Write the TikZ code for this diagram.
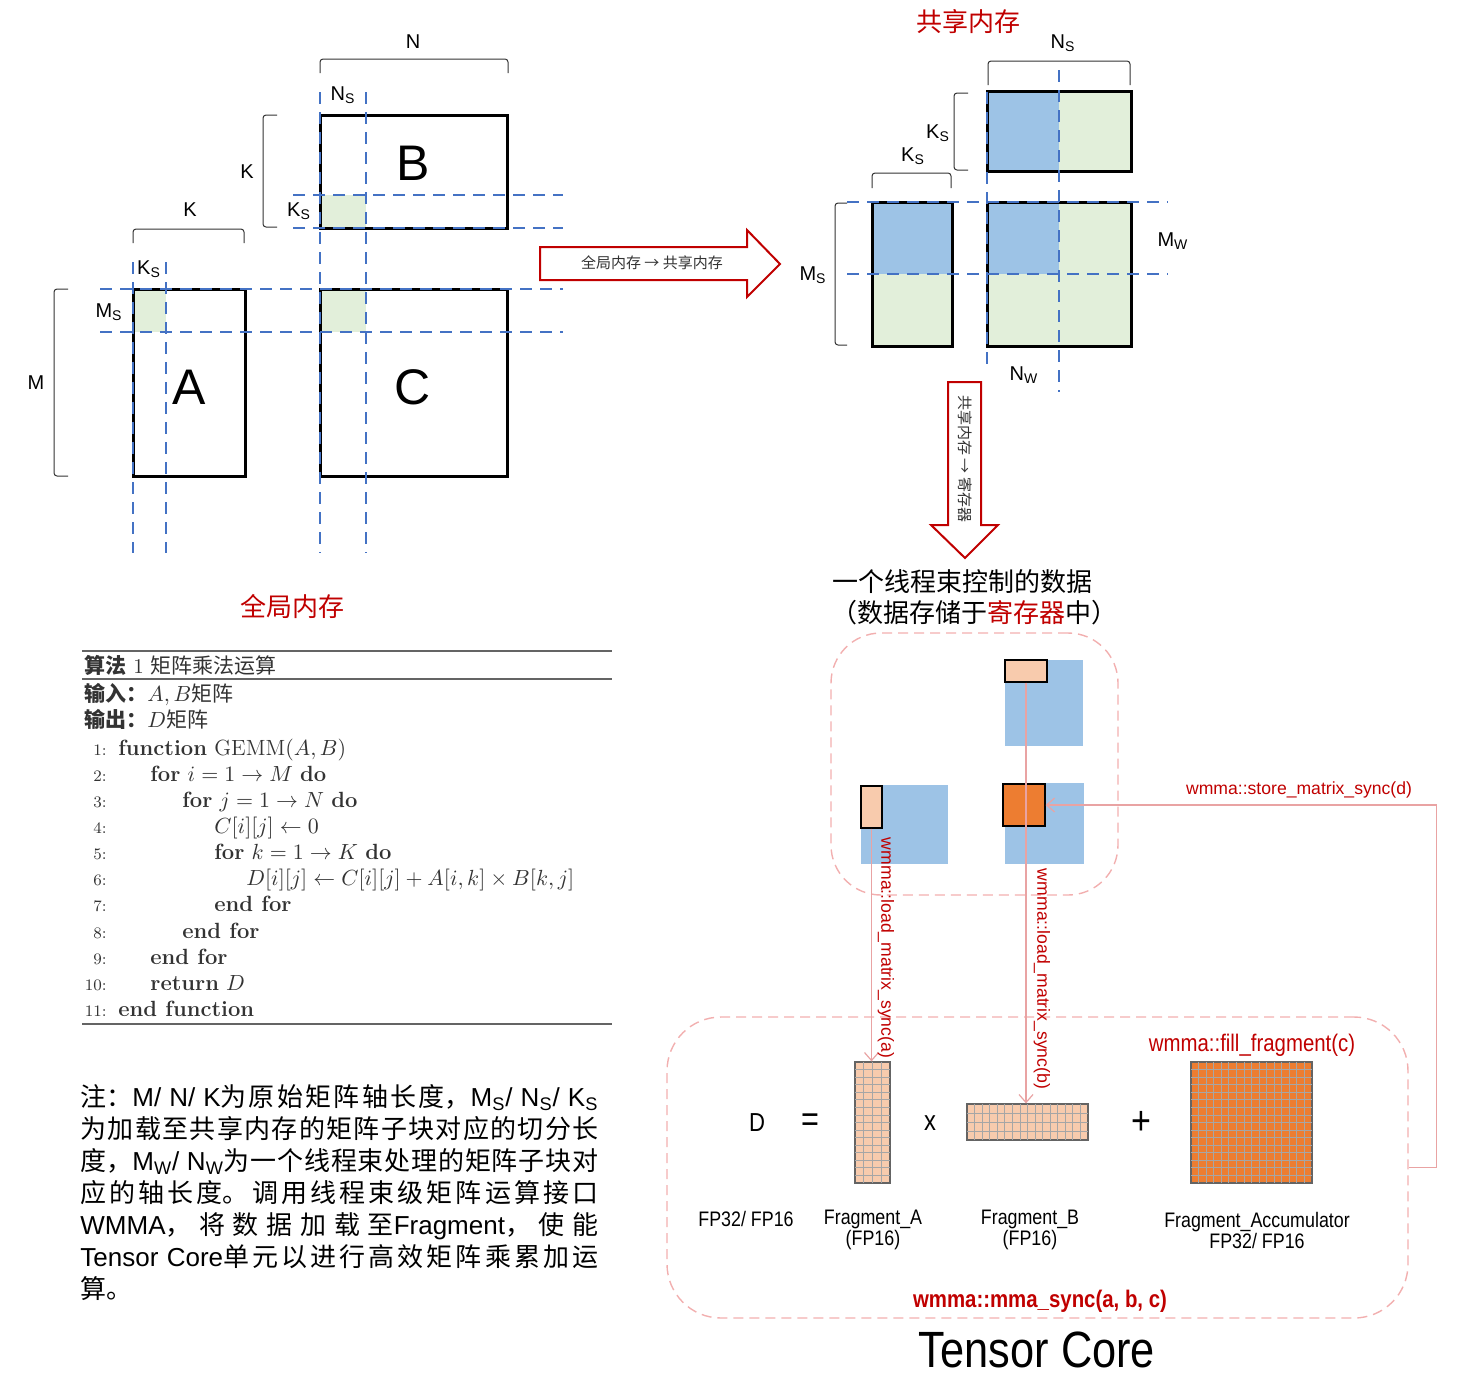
\documentclass[tikz,border=0pt]{standalone}
\usepackage{fontspec}
\newfontfamily\cjk{Noto Sans CJK SC}
\newfontfamily\helv{Liberation Sans}
\newfontfamily\narrow[FakeStretch=0.85]{Liberation Sans}
\XeTeXlinebreaklocale "zh"
\XeTeXlinebreakskip=0pt plus 5pt
\usetikzlibrary{arrows.meta}
\definecolor{cutblue}{HTML}{4472C4}
\definecolor{tilegreen}{HTML}{E2EFDA}
\definecolor{tileblue}{HTML}{9DC3E6}
\definecolor{peach}{HTML}{F8CBAD}
\definecolor{accorange}{HTML}{ED7D31}
\definecolor{memred}{HTML}{C00000}
\definecolor{boxpink}{HTML}{F2AFAF}
\definecolor{wirepink}{HTML}{E9A3A3}
\definecolor{gridgray}{HTML}{A6A6A6}
\definecolor{inkgray}{HTML}{333333}
\tikzset{
  mat/.style={draw=black,line width=1.5pt},
  cut/.style={cutblue,line width=1pt,dash pattern=on 6pt off 4pt},
  brk/.style={inkgray,line width=.5pt,rounded corners=1.5pt},
  dim/.style={font=\helv\fontsize{10}{12}\selectfont},
  big/.style={font=\helv\fontsize{25}{30}\selectfont},
  memname/.style={font=\cjk\fontsize{13}{15}\selectfont,text=memred},
  blockarrow/.style={draw=memred,line width=1pt,fill=white,line join=miter},
  arrowtext/.style={font=\cjk\fontsize{7.5}{9}\selectfont,text=inkgray},
  dashbox/.style={draw=boxpink,line width=.7pt,dash pattern=on 5pt off 3pt,inner sep=0pt},
  regtile/.style={draw=black,line width=.7pt,inner sep=0pt},
  frag/.style={draw=gridgray!60!black,line width=.6pt,inner sep=0pt},
  gridln/.style={gridgray,line width=.4pt},
  wire/.style={wirepink,line width=.6pt},
  api/.style={font=\helv\fontsize{8.8}{10}\selectfont,text=memred},
  tc/.style={font=\narrow\fontsize{10.5}{10.5}\selectfont,align=center},
  alg/.style={anchor=base west,inner sep=0pt,font=\fontsize{11}{13}\selectfont,text=inkgray},
  algno/.style={anchor=base east,inner sep=0pt,font=\fontsize{8}{10}\selectfont,text=inkgray},
}
\begin{document}
\begin{tikzpicture}[x=0.5pt,y=-0.5pt]
  \useasboundingbox (0,0) rectangle (1476,1382);
  % global memory: tiles
  \fill[tilegreen] (320,195) rectangle (366,228);
  \fill[tilegreen] (133,289) rectangle (166,332);
  \fill[tilegreen] (320,289) rectangle (366,332);
  \draw[mat] (320,115) rectangle (507,228);
  \draw[mat] (133,289) rectangle (245,476);
  \draw[mat] (320,289) rectangle (507,476);
  \draw[cut] (293,195) -- (563,195);
  \draw[cut] (293,228) -- (563,228);
  \draw[cut] (100,289) -- (563,289);
  \draw[cut] (100,332) -- (563,332);
  \draw[cut] (133,262) -- (133,553);
  \draw[cut] (166,262) -- (166,553);
  \draw[cut] (320,92) -- (320,553);
  \draw[cut] (366,92) -- (366,553);
  \draw[brk] (320,73) -- (320,59) -- (508,59) -- (508,73);
  \draw[brk] (277,115) -- (263,115) -- (263,227) -- (277,227);
  \draw[brk] (133,243) -- (133,229) -- (244,229) -- (244,243);
  \draw[brk] (68,289) -- (54,289) -- (54,476) -- (68,476);
  \node[dim] (dimN) at (413,42) {N};
  \node[dim] (dimNs) at (343,95) {N\textsubscript{S}};
  \node[dim] (dimKb) at (247,172) {K};
  \node[dim] (dimKsb) at (299,211) {K\textsubscript{S}};
  \node[dim] (dimKa) at (190,210) {K};
  \node[dim] (dimKsa) at (149,269) {K\textsubscript{S}};
  \node[dim] (dimMs) at (109,312) {M\textsubscript{S}};
  \node[dim] (dimM) at (36,383) {M};
  \node[big] (nameB) at (413,163) {B};
  \node[big] (nameA) at (189,387) {A};
  \node[big] (nameC) at (413,387) {C};
  \node[memname] (globalmem) at (292,606) {全局内存};
  % global -> shared
  \draw[blockarrow] (540,247) -- (747,247) -- (747,230) -- (780,264) -- (747,297) -- (747,280) -- (540,280) -- cycle;
  \node[arrowtext] (globtoshared) at (652,263) {全局内存 → 共享内存};
  % shared memory
  \node[memname] (sharedmem) at (968,22) {共享内存};
  \fill[tileblue] (987,91) rectangle (1059,171);
  \fill[tilegreen] (1059,91) rectangle (1131,171);
  \fill[tileblue] (872,202) rectangle (952,274);
  \fill[tilegreen] (872,274) rectangle (952,346);
  \fill[tilegreen] (987,202) rectangle (1131,346);
  \fill[tileblue] (987,202) rectangle (1059,274);
  \draw[mat] (987,91) rectangle (1131,171);
  \draw[mat] (872,202) rectangle (952,346);
  \draw[mat] (987,202) rectangle (1131,346);
  \draw[cut] (847,202) -- (1168,202);
  \draw[cut] (847,274) -- (1168,274);
  \draw[cut] (987,92) -- (987,367);
  \draw[cut] (1059,70) -- (1059,392);
  \draw[brk] (988,85) -- (988,61) -- (1130,61) -- (1130,85);
  \draw[brk] (968,93) -- (954,93) -- (954,170) -- (968,170);
  \draw[brk] (872,188) -- (872,173) -- (951,173) -- (951,188);
  \draw[brk] (847,203) -- (835,203) -- (835,345) -- (847,345);
  \node[dim] (dimNsr) at (1063,43) {N\textsubscript{S}};
  \node[dim] (dimKsr) at (938,133) {K\textsubscript{S}};
  \node[dim] (dimKsl) at (913,156) {K\textsubscript{S}};
  \node[dim] (dimMsl) at (813,275) {M\textsubscript{S}};
  \node[dim] (dimMw) at (1173,241) {M\textsubscript{W}};
  \node[dim] (dimNw) at (1024,375) {N\textsubscript{W}};
  % shared -> registers
  \draw[blockarrow] (948,382) -- (981,382) -- (981,525) -- (998,525) -- (965,558) -- (931,525) -- (948,525) -- cycle;
  \node[arrowtext,rotate=-90] (sharedtoreg) at (965,459) {共享内存 → 寄存器};
  \node[font=\cjk\fontsize{13}{15}\selectfont] (warpdata) at (962,582) {一个线程束控制的数据};
  \node[font=\cjk\fontsize{13}{15}\selectfont] (warpreg) at (974,613) {（数据存储于{\color{memred}寄存器}中）};
  % registers
  \node[dashbox,rounded corners=25pt,minimum width=143.5pt,minimum height=131pt] (regbox) at (974.5,764) {};
  \fill[tileblue] (1005,660) rectangle (1083,746);
  \fill[tileblue] (861,785) rectangle (948,864);
  \fill[tileblue] (1005,783) rectangle (1084,864);
  \node[regtile,fill=peach,minimum width=21pt,minimum height=11pt] (regB) at (1026,671) {};
  \node[regtile,fill=peach,minimum width=10.5pt,minimum height=21pt] (regA) at (871.5,807) {};
  \node[regtile,fill=accorange,minimum width=21pt,minimum height=21pt] (regC) at (1024,805) {};
  % tensor core
  \node[dashbox,rounded corners=27pt,minimum width=370.5pt,minimum height=150.5pt] (tcbox) at (1037.5,1167.5) {};
  \node[frag,fill=peach,minimum width=17.5pt,minimum height=60.5pt] (fragA) at (872.5,1122.5) {};
  \foreach \i in {1,2,3} \draw[gridln] ({855+8.75*\i},1062) -- ++(0,121);
  \foreach \j in {1,...,15} \draw[gridln] (855,{1062+7.5625*\j}) -- ++(35,0);
  \draw[frag] (fragA.south west) rectangle (fragA.north east);
  \node[frag,fill=peach,minimum width=60.5pt,minimum height=18pt] (fragB) at (1027.5,1122) {};
  \foreach \i in {1,...,15} \draw[gridln] ({967+7.5625*\i},1104) -- ++(0,36);
  \foreach \j in {1,2,3} \draw[gridln] (967,{1104+9*\j}) -- ++(121,0);
  \draw[frag] (fragB.south west) rectangle (fragB.north east);
  \node[frag,fill=accorange,minimum width=60.5pt,minimum height=60.5pt] (fragC) at (1251.5,1122.5) {};
  \foreach \i in {1,...,15} \draw[gridln] ({1191+7.5625*\i},1062) -- ++(0,121);
  \foreach \j in {1,...,15} \draw[gridln] (1191,{1062+7.5625*\j}) -- ++(121,0);
  \draw[frag] (fragC.south west) rectangle (fragC.north east);
  \node[font=\narrow\fontsize{13}{15}\selectfont] (symD) at (757,1123) {D};
  \node[font=\narrow\fontsize{18}{20}\selectfont] (symEq) at (810,1123) {=};
  \node[font=\narrow\fontsize{14}{16}\selectfont] (symX) at (930,1123) {x};
  \node[font=\narrow\fontsize{20}{22}\selectfont] (symPlus) at (1141,1123) {+};
  \node[tc] (typeD) at (746,1219) {FP32/ FP16};
  \node[tc] (typeA) at (873,1230) {Fragment\_A\\(FP16)};
  \node[tc] (typeB) at (1030,1230) {Fragment\_B\\(FP16)};
  \node[tc] (typeC) at (1257,1230) {Fragment\_Accumulator\\FP32/ FP16};
  \node[font=\narrow\fontsize{12}{14}\selectfont,text=memred] (fillapi) at (1252,1045) {wmma::fill\_fragment(c)};
  \node[font=\narrow\bfseries\fontsize{12}{14}\selectfont,text=memred] (mmaapi) at (1040,1301) {wmma::mma\_sync(a, b, c)};
  \node[font=\narrow\fontsize{25.5}{28}\selectfont] (tctitle) at (1037,1350) {Tensor Core};
  % wmma calls
  \draw[wire,-{Straight Barb[length=4pt,width=7pt]}] (regA.south) -- (regA.south |- fragA.north);
  \draw[wire,-{Straight Barb[length=4pt,width=7pt]}] (regB.south) -- (regB.south |- fragB.north);
  \draw[wire,-{Straight Barb[length=4pt,width=7pt]}] (tcbox.east) -- ++(28,0) |- (regC.east);
  \node[api,rotate=-90] (loadA) at (886,948) {wmma::load\_matrix\_sync(a)};
  \node[api,rotate=-90] (loadB) at (1042,979) {wmma::load\_matrix\_sync(b)};
  \node[api] (storeD) at (1299,790) {wmma::store\_matrix\_sync(d)};
  % algorithm
  \draw[gridgray!60!black,line width=1pt] (82,651) -- (612,651);
  \draw[gridgray!60!black,line width=.6pt] (82,679) -- (612,679);
  \draw[gridgray!60!black,line width=1pt] (82,1024) -- (612,1024);
  \node[alg,font=\fontsize{10.5}{12}\selectfont] (algcap) at (84,673) {{\cjk\bfseries 算法}~1~{\cjk 矩阵乘法运算}};
  \node[alg,font=\fontsize{10.5}{12}\selectfont] (algin) at (84,701) {{\cjk\bfseries 输入：}$A,B${\cjk 矩阵}};
  \node[alg,font=\fontsize{10.5}{12}\selectfont] (algout) at (84,727) {{\cjk\bfseries 输出：}$D${\cjk 矩阵}};
  \node[algno] (no1) at (107,755) {1:};
  \node[algno] (no2) at (107,781) {2:};
  \node[algno] (no3) at (107,807) {3:};
  \node[algno] (no4) at (107,833) {4:};
  \node[algno] (no5) at (107,859) {5:};
  \node[algno] (no6) at (107,885) {6:};
  \node[algno] (no7) at (107,911) {7:};
  \node[algno] (no8) at (107,938) {8:};
  \node[algno] (no9) at (107,964) {9:};
  \node[algno] (no10) at (107,990) {10:};
  \node[algno] (no11) at (107,1016) {11:};
  \node[alg] (ln1) at (118,755) {\textbf{function} GEMM$(A,B)$};
  \node[alg] (ln2) at (150,781) {\textbf{for} $i=1\to M$ \textbf{do}};
  \node[alg] (ln3) at (182,807) {\textbf{for} $j=1\to N$ \textbf{do}};
  \node[alg] (ln4) at (214,833) {$C[i][j]\gets 0$};
  \node[alg] (ln5) at (214,859) {\textbf{for} $k=1\to K$ \textbf{do}};
  \node[alg] (ln6) at (246,885) {$D[i][j]\gets C[i][j]+A[i,k]\times B[k,j]$};
  \node[alg] (ln7) at (214,911) {\textbf{end for}};
  \node[alg] (ln8) at (182,938) {\textbf{end for}};
  \node[alg] (ln9) at (150,964) {\textbf{end for}};
  \node[alg] (ln10) at (150,990) {\textbf{return} $D$};
  \node[alg] (ln11) at (118,1016) {\textbf{end function}};
  % note
  \node[anchor=north west,inner sep=0pt,text width=259pt,align=justify,font=\cjk\fontsize{13}{16}\selectfont] (note) at (80,1084) {注：{\helv M/ N/ K}为原始矩阵轴长度，{\helv M\textsubscript{S}/ N\textsubscript{S}/ K\textsubscript{S}}\unskip\linebreak
    为加载至共享内存的矩阵子块对应的切分长\unskip\linebreak
    度，{\helv M\textsubscript{W}/ N\textsubscript{W}}为一个线程束处理的矩阵子块对\unskip\linebreak
    应的轴长度。调用线程束级矩阵运算接口\unskip\linebreak
    {\helv WMMA}，将数据加载至{\helv Fragment}，使能\unskip\linebreak
    {\helv Tensor Core}单元以进行高效矩阵乘累加运\unskip\linebreak
    算。};
\end{tikzpicture}
\end{document}
